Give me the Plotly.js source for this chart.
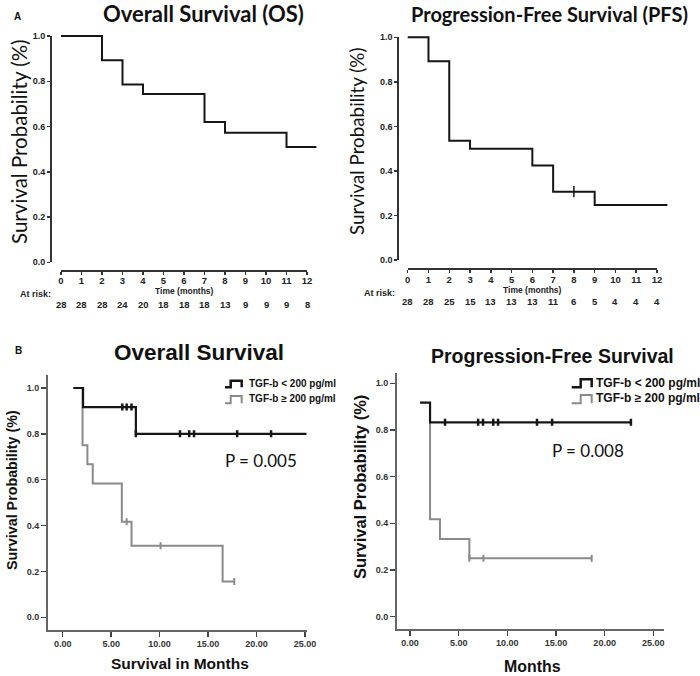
<!DOCTYPE html>
<html><head><meta charset="utf-8">
<script src="https://cdn.plot.ly/plotly-3.0.1.min.js"></script>
<style>body{margin:0;background:#fff}#chart{width:700px;height:676px}</style>
</head><body><div id="chart"></div>
<script>
// ---------------- data ----------------
const osMonths  = [0, 2, 3, 4, 7, 8, 11, 12.46];
const osSurv    = [1.0, 0.893, 0.786, 0.744, 0.62, 0.573, 0.509, 0.509];
const osCensor  = [];
const pfsMonths = [0, 1, 2, 3, 6, 7, 9, 12.5];
const pfsSurv   = [1.0, 0.893, 0.536, 0.5, 0.424, 0.307, 0.247, 0.247];
const pfsCensor = [8];
const riskTimes = [0, 1, 2, 3, 4, 5, 6, 7, 8, 9, 10, 11, 12];
const osAtRisk  = [28, 28, 28, 24, 20, 18, 18, 18, 13, 9, 9, 9, 8];
const pfsAtRisk = [28, 28, 25, 15, 13, 13, 13, 11, 6, 5, 4, 4, 4];

const osLowMonths   = [1.1, 2.1, 7.55, 25.2];
const osLowSurv     = [1.0, 0.917, 0.80, 0.80];
const osLowCensor   = [6.15, 6.6, 7.1, 7.55, 12.1, 13.05, 13.55, 18.0, 21.5];
const osHighMonths  = [1.1, 2.05, 2.55, 3.1, 6.1, 7.1, 16.5, 17.7];
const osHighSurv    = [1.0, 0.75, 0.667, 0.583, 0.417, 0.3125, 0.156, 0.156];
const osHighCensor  = [6.6, 10.1, 17.7];
const pfsLowMonths  = [1.03, 2.06, 22.7];
const pfsLowSurv    = [0.917, 0.833, 0.833];
const pfsLowCensor  = [3.6, 7.0, 7.5, 8.55, 9.05, 13.05, 14.6, 22.7];
const pfsHighMonths = [2.06, 2.06, 3.08, 6.1, 18.67];
const pfsHighSurv   = [0.833, 0.417, 0.333, 0.25, 0.25];
const pfsHighCensor = [6.1, 7.55, 18.67];

const groupLabels = ['TGF-b < 200 pg/ml', 'TGF-b ≥ 200 pg/ml'];
const pValues = ['P = 0.005', 'P = 0.008'];

// ---------------- helpers ----------------
const W = 700, H = 676;
const px = x => x / W, py = y => 1 - y / H;
function lin(v0, p0, v1, p1) { const s = (v1 - v0) / (p1 - p0); return p => v0 + (p - p0) * s; }
function survAt(T, S, t) { let v = S[0]; for (let i = 0; i < T.length; i++) if (T[i] <= t) v = S[i]; return v; }

const BLACK = '#161616', GRAY = '#8a8a8a';
const tickFontA = {family: 'Liberation Sans, Arial', size: 9, color: '#222', weight: 'bold'};
const tickFontB = {family: 'Liberation Sans, Arial', size: 9, color: '#333', weight: 'bold'};

const traces = [];
function stepTrace(T, S, xa, ya, color, width) {
  traces.push({x: T, y: S, xaxis: xa, yaxis: ya, mode: 'lines', line: {shape: 'hv', color: color, width: width}, hoverinfo: 'skip'});
}
function censorTrace(C, T, S, xa, ya, color, size, width) {
  if (!C.length) return;
  traces.push({x: C, y: C.map(t => survAt(T, S, t)), xaxis: xa, yaxis: ya, mode: 'markers',
    marker: {symbol: 'line-ns', size: size, line: {color: color, width: width}}, hoverinfo: 'skip'});
}

const layout = {
  width: W, height: H, margin: {l: 0, r: 0, t: 0, b: 0},
  paper_bgcolor: '#fff', plot_bgcolor: 'rgba(0,0,0,0)', showlegend: false,
  annotations: [], shapes: []
};
const hidden = {showline: false, showticklabels: false, ticks: '', showgrid: false, zeroline: false};

// ---- Panel A (Prism style, detached axes) ----
function panelA(n, g, T, S, C, atRisk, title) {
  const xd = 'xaxis' + (n === 1 ? '' : n), yd = 'yaxis' + (n === 1 ? '' : n);
  const xa = 'xaxis' + (n + 1), ya = 'yaxis' + (n + 1);
  const fx = lin(0, g.x0, 12, g.x12), fy = lin(0, g.y0, 1, g.y1);
  layout[xd] = Object.assign({}, hidden, {domain: [px(g.dl), px(g.dr)], range: [fx(g.dl), fx(g.dr)], anchor: 'y' + (n === 1 ? '' : n)});
  layout[yd] = Object.assign({}, hidden, {domain: [py(g.db), py(g.dt)], range: [fy(g.db), fy(g.dt)], anchor: 'x' + (n === 1 ? '' : n)});
  layout[xa] = {domain: [px(g.x0), px(g.x12)], range: [0, 12], anchor: 'free', position: py(g.xline),
    showline: true, linecolor: '#333', linewidth: 2, ticks: 'outside', ticklen: 3, tickwidth: 1.5, tickcolor: '#333',
    ticklabelstandoff: -2,
    tick0: 0, dtick: 1, showgrid: false, zeroline: false, tickfont: Object.assign({}, tickFontA, {size: 9.5})};
  layout[ya] = {domain: [py(g.y0), py(g.y1)], range: [0, 1], anchor: 'free', position: px(g.yline),
    showline: true, linecolor: '#333', linewidth: 2, ticks: 'outside', ticklen: 3, tickwidth: 1.5, tickcolor: '#333',
    tick0: 0, dtick: 0.2, tickformat: '.1f', showgrid: false, zeroline: false, tickfont: tickFontA};
  const xs = 'x' + (n === 1 ? '' : n), ys = 'y' + (n === 1 ? '' : n);
  traces.push({x: [], y: [], xaxis: 'x' + (n + 1), yaxis: 'y' + (n + 1), mode: 'lines', hoverinfo: 'skip'});
  stepTrace(T, S, xs, ys, BLACK, 2);
  censorTrace(C, T, S, xs, ys, BLACK, 8, 1.5);
  const A = layout.annotations;
  A.push({text: title, xref: 'paper', yref: 'paper', x: px(g.tx), y: py(g.ty), showarrow: false,
    xanchor: 'center', yanchor: 'middle', font: {family: 'Lato', size: g.tsize, weight: 'bold', color: '#111'}});
  A.push({text: 'Survival Probability (%)', xref: 'paper', yref: 'paper', x: px(g.ytx), y: py(g.yty), textangle: -90,
    showarrow: false, xanchor: 'center', yanchor: 'middle', font: {family: 'Lato', size: g.ysize, color: '#111'}});
  A.push({text: 'Time (months)', xref: 'paper', yref: 'paper', x: px((g.x0 + g.x12) / 2 + 0.5), y: py(g.timeY), showarrow: false,
    xanchor: 'center', yanchor: 'middle', font: {family: 'Liberation Sans, Arial', size: 8.5, weight: 'bold', color: '#222'}});
  A.push({text: 'At risk:', xref: 'paper', yref: 'paper', x: px(g.arX), y: py(g.arY), showarrow: false,
    xanchor: 'center', yanchor: 'middle', font: {family: 'Liberation Sans, Arial', size: 9, weight: 'bold', color: '#222'}});
  riskTimes.forEach((t, i) => A.push({text: String(atRisk[i]), xref: 'x' + (n + 1), yref: 'paper', x: t, y: py(g.numY),
    showarrow: false, xanchor: 'center', yanchor: 'middle', font: {family: 'Liberation Sans, Arial', size: 9.5, weight: 'bold', color: '#222'}}));
}

panelA(1, {x0: 61, x12: 307, y0: 262.3, y1: 36, dl: 48, dr: 325, db: 278, dt: 25, xline: 270.7, yline: 51,
  tx: 203, ty: 14, tsize: 22, ytx: 19, yty: 142, ysize: 20.5, timeY: 291, arX: 35, arY: 294, numY: 304},
  osMonths, osSurv, osCensor, osAtRisk, 'Overall Survival (OS)');
panelA(3, {x0: 407.7, x12: 657, y0: 260, y1: 37.3, dl: 395, dr: 672, db: 276, dt: 27, xline: 269.3, yline: 398.3,
  tx: 549, ty: 14, tsize: 20, ytx: 357, yty: 142, ysize: 18.8, timeY: 290, arX: 380, arY: 292.5, numY: 301.5},
  pfsMonths, pfsSurv, pfsCensor, pfsAtRisk, 'Progression-Free Survival (PFS)');

layout.annotations.push({text: 'A', xref: 'paper', yref: 'paper', x: px(17), y: py(16), showarrow: false,
  xanchor: 'center', yanchor: 'middle', font: {family: 'Liberation Sans, Arial', size: 10, weight: 'bold', color: '#111'}});
layout.annotations.push({text: 'B', xref: 'paper', yref: 'paper', x: px(18), y: py(350), showarrow: false,
  xanchor: 'center', yanchor: 'middle', font: {family: 'Liberation Sans, Arial', size: 10, weight: 'bold', color: '#111'}});

// ---- Panel B (SPSS style) ----
function panelB(n, g, lowT, lowS, lowC, highT, highS, highC, title, xtitle, pText) {
  const xs = 'x' + n, ys = 'y' + n;
  const fx = lin(0, g.x0, 25, g.x25), fy = lin(0, g.y0, 1, g.y1);
  const axBase = {showline: true, linecolor: '#666', linewidth: 1.5, ticks: 'outside', ticklen: 5, tickwidth: 1.5,
    tickcolor: '#444', showgrid: false, zeroline: false, tickfont: tickFontB};
  layout['xaxis' + n] = Object.assign({}, axBase, {domain: [px(g.dl), px(g.dr)], range: [fx(g.dl), fx(g.dr)],
    anchor: ys, tick0: 0, dtick: 5, tickformat: '.2f'});
  layout['yaxis' + n] = Object.assign({}, axBase, {domain: [py(g.db), py(g.dt)], range: [fy(g.db), fy(g.dt)],
    anchor: xs, tick0: 0, dtick: 0.2, tickformat: '.1f'});
  stepTrace(highT, highS, xs, ys, GRAY, 2);
  censorTrace(highC, highT, highS, xs, ys, GRAY, 5, 2);
  stepTrace(lowT, lowS, xs, ys, BLACK, 2.2);
  censorTrace(lowC, lowT, lowS, xs, ys, BLACK, 5, 2.5);
  const A = layout.annotations;
  A.push({text: title, xref: 'paper', yref: 'paper', x: px(g.tx), y: py(g.ty), showarrow: false,
    xanchor: 'center', yanchor: 'middle', font: {family: 'Liberation Sans, Arial', size: g.tsize, weight: 'bold', color: '#111'}});
  A.push({text: 'Survival Probability (%)', xref: 'paper', yref: 'paper', x: px(g.ytx), y: py(g.yty), textangle: -90,
    showarrow: false, xanchor: 'center', yanchor: 'middle', font: {family: 'Liberation Sans, Arial', size: g.ysize, weight: 'bold', color: '#111'}});
  A.push({text: xtitle, xref: 'paper', yref: 'paper', x: px(g.xtx), y: py(g.xty), showarrow: false,
    xanchor: 'center', yanchor: 'middle', font: {family: 'Liberation Sans, Arial', size: g.xsize, weight: 'bold', color: '#111'}});
  A.push({text: pText, xref: 'paper', yref: 'paper', x: px(g.px), y: py(g.py), showarrow: false,
    xanchor: 'center', yanchor: 'middle', font: {family: 'Lato', size: 17, color: '#111'}});
  [[BLACK, 2.5, g.l1], [GRAY, 2, g.l2]].forEach(([c, w, L], i) => {
    const path = `M${px(g.gx0)},${py(L.bot)} L${px(g.gx1)},${py(L.bot)} L${px(g.gx1)},${py(L.top)} L${px(g.gx2)},${py(L.top)} L${px(g.gx2)},${py(L.bot)}`;
    layout.shapes.push({type: 'path', xref: 'paper', yref: 'paper', path: path, line: {color: c, width: w}});
    A.push({text: groupLabels[i], xref: 'paper', yref: 'paper', x: px(g.lx), y: py(L.ty), showarrow: false,
      xanchor: 'left', yanchor: 'middle', font: {family: 'Liberation Sans, Arial', size: g.lsize, weight: 'bold', color: '#111'}});
  });
}

panelB(5, {x0: 62.7, x25: 305, y0: 617.3, y1: 388, dl: 47.5, dr: 306.5, db: 630, dt: 375,
  tx: 199.5, ty: 352, tsize: 22.5, ytx: 12, yty: 490, ysize: 14.3, xtx: 180, xty: 663, xsize: 15.5,
  px: 261, py: 460, gx0: 225, gx1: 230.7, gx2: 241.7, lx: 246.5, lsize: 10,
  l1: {bot: 387.3, top: 380.7, ty: 383.8}, l2: {bot: 403.3, top: 396, ty: 398.5}},
  osLowMonths, osLowSurv, osLowCensor, osHighMonths, osHighSurv, osHighCensor, 'Overall Survival', 'Survival in Months', pValues[0]);
panelB(6, {x0: 410, x25: 653.3, y0: 616.7, y1: 383.3, dl: 396.5, dr: 664, db: 629, dt: 373.3,
  tx: 552.5, ty: 356, tsize: 19.5, ytx: 360, yty: 487, ysize: 16.5, xtx: 532, xty: 666, xsize: 15.9,
  px: 588, py: 450, gx0: 571.7, gx1: 580.7, gx2: 591.7, lx: 593.5, lsize: 12,
  l1: {bot: 387.3, top: 379.3, ty: 383.3}, l2: {bot: 403.3, top: 395, ty: 398.3}},
  pfsLowMonths, pfsLowSurv, pfsLowCensor, pfsHighMonths, pfsHighSurv, pfsHighCensor, 'Progression-Free Survival', 'Months', pValues[1]);

Plotly.newPlot('chart', traces, layout, {displayModeBar: false, staticPlot: true});
</script></body></html>
